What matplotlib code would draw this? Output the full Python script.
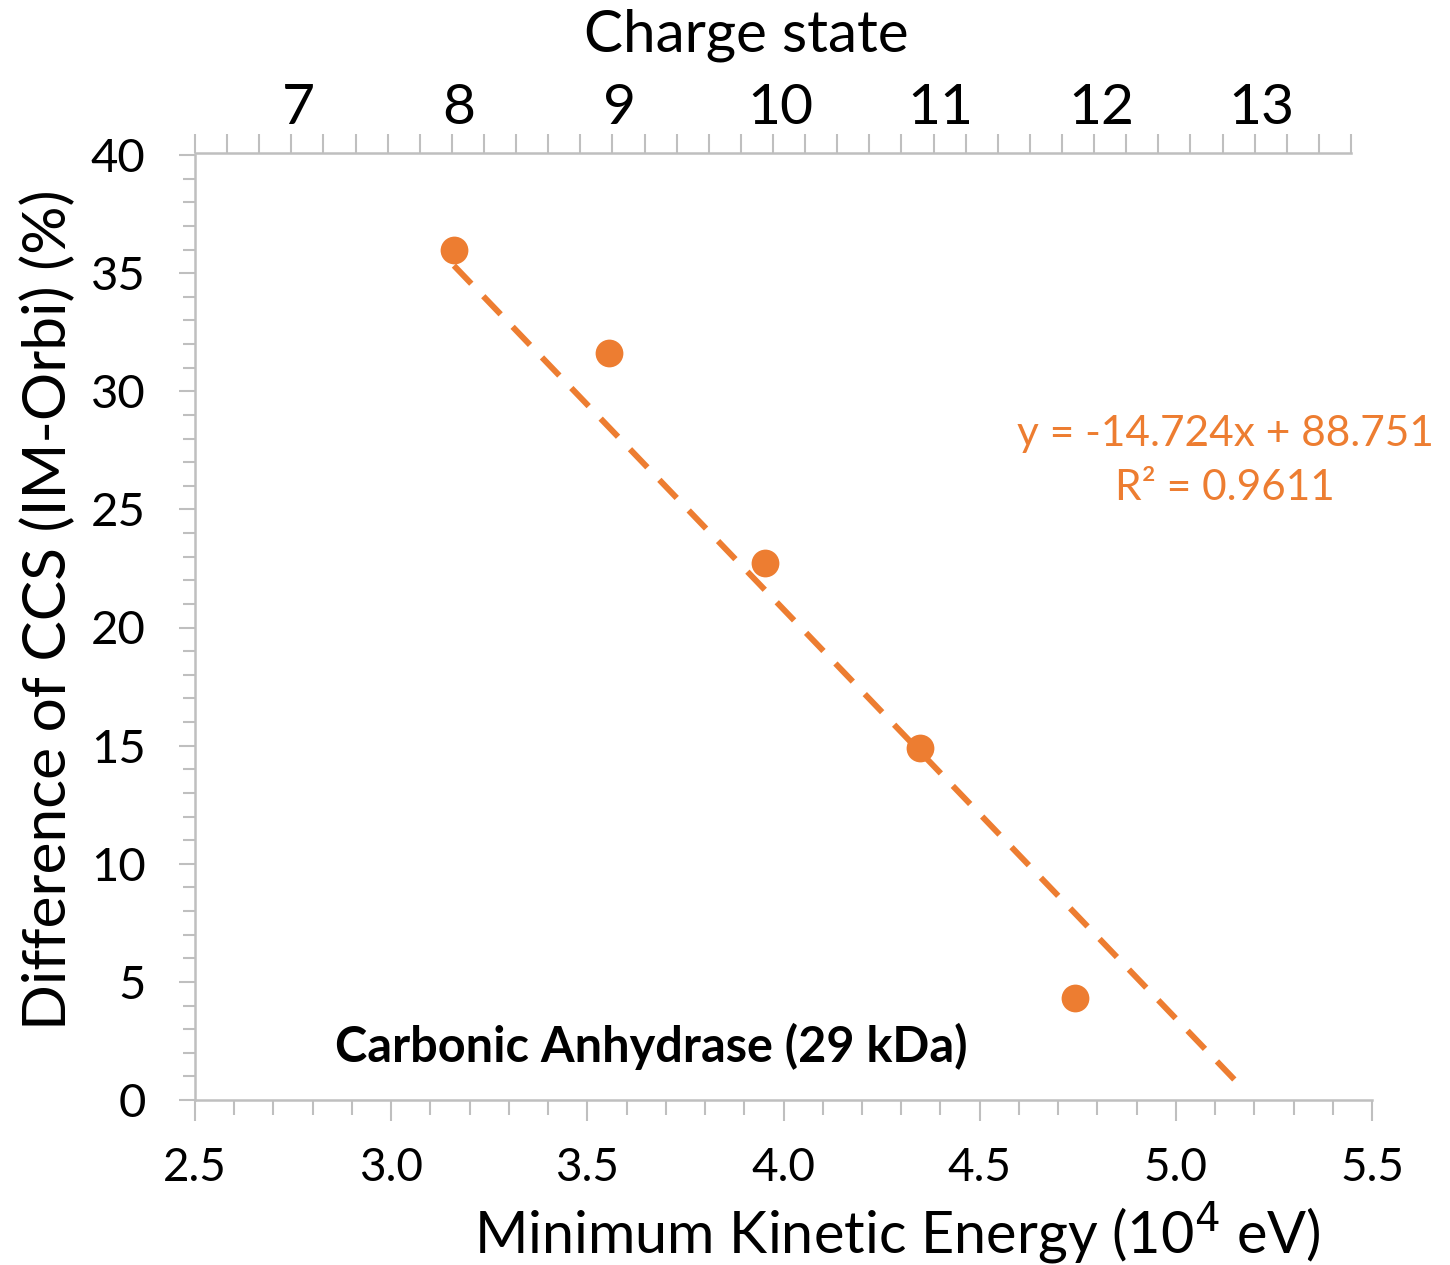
import matplotlib
matplotlib.use("Agg")
import matplotlib.pyplot as plt
import matplotlib.transforms as mtransforms
from matplotlib.ticker import MultipleLocator, FormatStrFormatter
import numpy as np

plt.rcParams['font.family'] = ['Lato', 'DejaVu Sans']

# Data
kinetic_energy = np.array([3.16, 3.555, 3.953, 4.348, 4.743])  # 10^4 eV
ccs_difference = np.array([36.0, 31.6, 22.75, 14.9, 4.3])      # %
charge_states = [7, 8, 9, 10, 11, 12, 13]

# trendline as drawn (bottom-axis units) and its forward extension
trend_slope = -17.32
trend_intercept = 90.05
trend_forward = 0.41
equation_text = "y = -14.724x + 88.751\nR² = 0.9611"
protein_label = "Carbonic Anhydrase (29 kDa)"

orange = '#ED7D31'
grey = '#BFBFBF'

W, H = 1450, 1265
fig = plt.figure(figsize=(W / 100, H / 100), dpi=100)

# main axes: left 195px, right 1372px, bottom 1100px, top 155px
ax = fig.add_axes([195 / W, (H - 1100) / H, (1372 - 195) / W, (1100 - 155) / H])

trend_x = np.array([kinetic_energy.min(), kinetic_energy.max() + trend_forward])
ax.plot(trend_x, trend_slope * trend_x + trend_intercept, color=orange, lw=4.3,
        dashes=(4.2, 2.9), solid_capstyle='butt', dash_capstyle='butt', zorder=2)
ax.plot(kinetic_energy, ccs_difference, 'o', color=orange, ms=20, mec='none',
        zorder=3, clip_on=False)

ax.set_xlim(2.5, 5.5)
ax.set_ylim(0, 40)
ax.xaxis.set_major_locator(MultipleLocator(0.5))
ax.xaxis.set_minor_locator(MultipleLocator(0.1))
ax.xaxis.set_major_formatter(FormatStrFormatter('%.1f'))
ax.yaxis.set_major_locator(MultipleLocator(5))
ax.yaxis.set_minor_locator(MultipleLocator(1))

for s in ['top', 'right']:
    ax.spines[s].set_visible(False)
for s in ['left', 'bottom']:
    ax.spines[s].set_color(grey)
    ax.spines[s].set_linewidth(1.8)

ax.tick_params(axis='x', which='major', length=15, width=1.5, color=grey,
               labelsize=33, pad=19)
ax.tick_params(axis='x', which='minor', length=10.5, width=1.5, color=grey)
ax.tick_params(axis='y', which='major', length=11.5, width=1.5, color=grey,
               labelsize=34, pad=24)
ax.tick_params(axis='y', which='minor', length=8.5, width=1.5, color=grey)

ax.set_xlabel("Minimum Kinetic Energy (10$^{4}$ eV)", fontsize=41.5)
ax.xaxis.label.set_va('center')
ax.xaxis.set_label_coords((897 - 195) / 1177, (1100 - 1233) / 945)
ax.set_ylabel("Difference of CCS (IM-Orbi) (%)", fontsize=43.5)
ax.yaxis.label.set_va('center')
ax.yaxis.set_label_coords((48 - 195) / 1177, (1100 - 610) / 945)

ax.text((651 - 195) / 1177, (1100 - 1046) / 945, protein_label, transform=ax.transAxes,
        ha='center', va='center', fontsize=35, fontweight='bold', color='black')
ax.text((1225 - 195) / 1177, (1100 - 461) / 945, equation_text, transform=ax.transAxes,
        ha='center', va='center', multialignment='center', fontsize=30.5,
        color=orange, linespacing=1.5)

# top axis: charge state, spans 195px to 1351px, line at 153px
ax_top = fig.add_axes([195 / W, (H - 1100) / H, (1351 - 195) / W, (1100 - 153) / H])
ax_top.patch.set_visible(False)
ax_top.set_xlim(6.4, 13.6)
ax_top.set_ylim(0, 1)
ax_top.set_yticks([])
for s in ['bottom', 'left', 'right']:
    ax_top.spines[s].set_visible(False)
ax_top.spines['top'].set_color(grey)
ax_top.spines['top'].set_linewidth(1.8)
ax_top.xaxis.tick_top()
ax_top.set_xticks(charge_states)
ax_top.xaxis.set_minor_locator(MultipleLocator(0.2))
ax_top.tick_params(axis='x', which='both', length=13.5, width=1.5, color=grey,
                   labelsize=41, pad=0)
shift = mtransforms.ScaledTranslation(7 / 100, 0, fig.dpi_scale_trans)
for lab in ax_top.get_xticklabels():
    lab.set_transform(lab.get_transform() + shift)
ax_top.set_xlabel("Charge state", fontsize=42)
ax_top.xaxis.set_label_position('top')
ax_top.xaxis.label.set_va('center')
ax_top.xaxis.set_label_coords((746 - 195) / 1156, (1100 - 35) / 947)

fig.savefig('out.png', dpi=100)
